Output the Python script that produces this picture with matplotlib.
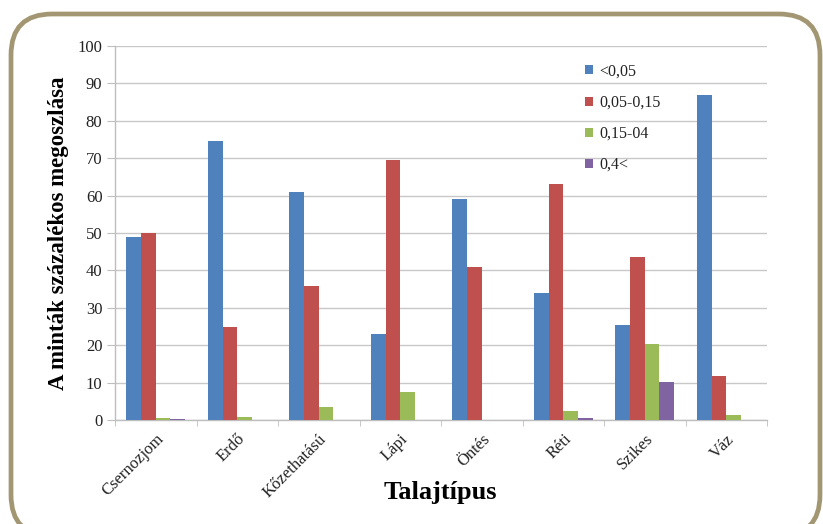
import matplotlib
matplotlib.use("Agg")
import matplotlib.pyplot as plt
import numpy as np
from matplotlib.patches import FancyBboxPatch

categories = ["Csernozjom", "Erdő", "Kőzethatású", "Lápi", "Öntés", "Réti", "Szikes", "Váz"]
series_names = ["<0,05", "0,05-0,15", "0,15-04", "0,4<"]
s_lt005 = [49.0, 74.5, 61.0, 23.0, 59.0, 34.0, 25.5, 87.0]
s_005_015 = [50.0, 25.0, 35.7, 69.5, 41.0, 63.0, 43.5, 11.7]
s_015_04 = [0.5, 0.8, 3.5, 7.5, 0.0, 2.4, 20.3, 1.3]
s_gt04 = [0.4, 0.0, 0.0, 0.0, 0.0, 0.5, 10.1, 0.0]
series = [s_lt005, s_005_015, s_015_04, s_gt04]
colors = ["#4F81BD", "#C0504D", "#9BBB59", "#8064A2"]

plt.rcParams['font.family'] = ['Liberation Serif', 'DejaVu Serif']

fig = plt.figure(figsize=(8.23, 5.24), dpi=100)
W, H = 823, 524

# rounded outer frame (its lower edge runs just past the bottom of the figure)
frame = FancyBboxPatch((11 / W, -12 / H), (820 - 11) / W, (H + 12 - 14) / H,
                       boxstyle="round,pad=0,rounding_size=0.05",
                       transform=fig.transFigure, fill=False,
                       edgecolor="#A39672", linewidth=3.4, zorder=0,
                       mutation_aspect=W / H)
fig.patches.append(frame)

ax = fig.add_axes([115 / W, (H - 420) / H, 652 / W, 374 / H])

x = np.arange(len(categories))
bw = 0.18
for i, (vals, c, name) in enumerate(zip(series, colors, series_names)):
    ax.bar(x - 1.5 * bw + i * bw, vals, width=bw, color=c, label=name, zorder=3)

ax.set_xlim(-0.5, len(categories) - 0.5)
ax.set_ylim(0, 100)
ax.set_yticks(np.arange(0, 101, 10))
ax.yaxis.grid(True, color="#C8C8C8", linewidth=1.0, zorder=0)
ax.set_axisbelow(True)

for side in ("top", "right"):
    ax.spines[side].set_visible(False)
for side in ("left", "bottom"):
    ax.spines[side].set_color("#BEBEBE")
    ax.spines[side].set_linewidth(1.0)

ax.set_xticks(x)
ax.set_xticklabels(categories, rotation=45, ha="right", va="top",
                   rotation_mode="anchor", fontsize=12, color="#222222")
ax.tick_params(axis="x", which="major", length=0, pad=8)
ax.set_xticks(np.arange(-0.5, len(categories), 1.0), minor=True)
ax.tick_params(axis="x", which="minor", length=4, color="#BEBEBE", direction="out")
ax.tick_params(axis="y", length=6, color="#BEBEBE", labelsize=12,
               labelcolor="#222222", pad=3)

ax.set_ylabel("A minták százalékos megoszlása", fontsize=16.5,
              fontweight="bold", labelpad=6)
fig.text(440 / W, (H - 493) / H, "Talajtípus", ha="center",
         va="center", fontsize=19, fontweight="bold")

leg = ax.legend(loc="upper left", bbox_to_anchor=(0.711, 0.97), frameon=False,
                fontsize=11.5, handlelength=0.5, handleheight=0.5,
                handletextpad=0.4, labelspacing=0.95, borderaxespad=0)
for t in leg.get_texts():
    t.set_color("#222222")

fig.savefig("out.png", dpi=100, facecolor="white")
